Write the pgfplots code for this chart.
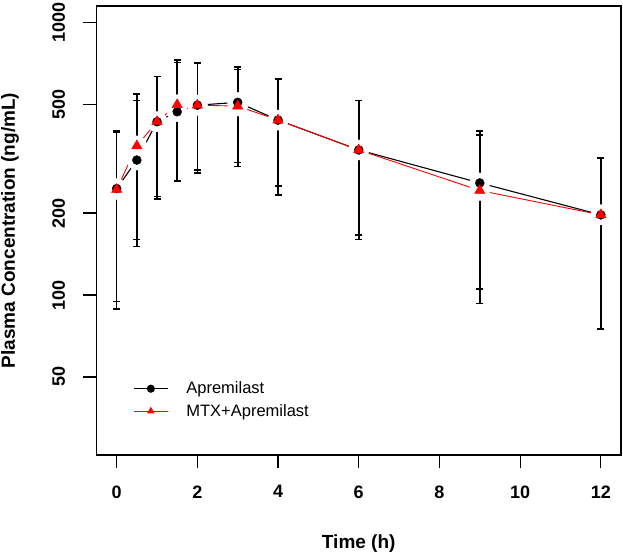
\documentclass[border=0pt]{standalone}
\usepackage{fontspec}
\setmainfont{Liberation Sans}
\usepackage{pgfplots}
\pgfplotsset{compat=1.18}
\usepackage{pgfplotstable}

\pgfplotstableread{
t    y    ep   em
0    246  154  151.5
0.5  313  204  162
1    433  203  208
1.5  471  242  209
2    498  212  217
3    510  179  203
4    439  182  188
6    341  176  175
9    258  143  153
12   197  122  122
}\apre

\pgfplotstableread{
t    y    ep   em
0    244  152  155.2
0.5  353  194  193
1    433  203  203
1.5  500  229  238
2    498  212  210
3    494  178  198
4    439  182  206
6    341  176  181
9    242  145  149
12   197  122  122
}\mtx

\begin{document}
\begin{tikzpicture}
\useasboundingbox (-96.5pt,-100pt) rectangle (526.5pt,455pt);
\begin{axis}[
  at={(0pt,0pt)}, anchor=south west,
  width=524.5pt, height=449pt, scale only axis,
  ymode=log,
  xmin=-0.5, xmax=12.5, ymin=25.85, ymax=1152,
  xtick={0,2,4,6,8,10,12},
  ytick={50,100,200,500,1000},
  yticklabels={50,100,200,500,1000},
  yminorticks=false,
  tick align=outside,
  major tick length=13pt,
  xtick pos=bottom, ytick pos=left,
  axis line style={line width=1.5pt},
  tick style={line width=1.2pt, black},
  /pgf/number format/assume math mode=true,
  ticklabel style={font=\fontsize{18}{18}\selectfont\bfseries},
  yticklabel style={rotate=90, anchor=south},
  yticklabel shift=15pt,
  xticklabel shift=14pt,
  xlabel={Time (h)},
  ylabel={Plasma Concentration (ng/mL)},
  every axis x label/.style={at={(axis description cs:0.5,-0.198)}, anchor=center,
     font=\fontsize{19}{19}\selectfont\bfseries},
  every axis y label/.style={at={(axis description cs:-0.165,0.5)}, rotate=90, anchor=center,
     font=\fontsize{19}{19}\selectfont\bfseries},
  legend style={at={(0.064,0.172)}, anchor=north west, draw=none, fill=none,
    font=\fontsize{16.5}{16.5}\selectfont, row sep=5pt,
    /tikz/every odd column/.append style={column sep=16pt}},
  legend cell align=left,
  legend image code/.code={\draw[#1, mark repeat=2, mark phase=2, mark size=3.5pt] plot coordinates {(0pt,0pt) (17pt,0pt) (34pt,0pt)};},
]
% connecting lines
\addplot[black, line width=1.1pt, mark=none, forget plot] table[x=t, y=y]{\apre};
\addplot[red, line width=0.9pt, mark=none, forget plot] table[x=t, y=y]{\mtx};
% white gaps around the points
\addplot[white, only marks, mark=*, mark size=10pt, forget plot] table[x=t, y=y]{\apre};
\addplot[white, only marks, mark=*, mark size=10pt, forget plot] table[x=t, y=y]{\mtx};
% error bars and markers
\addplot[black, only marks, mark=*, mark size=4.5pt, forget plot,
  error bars/.cd, y dir=both, y explicit,
  error bar style={line width=1.6pt, black},
  error mark options={rotate=90, mark size=3.5pt, line width=1.5pt, black}]
  table[x=t, y=y, y error plus=ep, y error minus=em]{\apre};
\addplot[red, only marks, mark=triangle*, mark size=6pt, forget plot,
  error bars/.cd, y dir=both, y explicit,
  error bar style={line width=1.6pt, black},
  error mark options={rotate=90, mark size=3.5pt, line width=1.5pt, black}]
  table[x=t, y=y, y error plus=ep, y error minus=em]{\mtx};
\addlegendimage{black, line width=1.1pt, mark=*}
\addlegendentry{Apremilast}
\addlegendimage{red, line width=0.9pt, mark=triangle*}
\addlegendentry{MTX+Apremilast}
\end{axis}
\end{tikzpicture}
\end{document}
